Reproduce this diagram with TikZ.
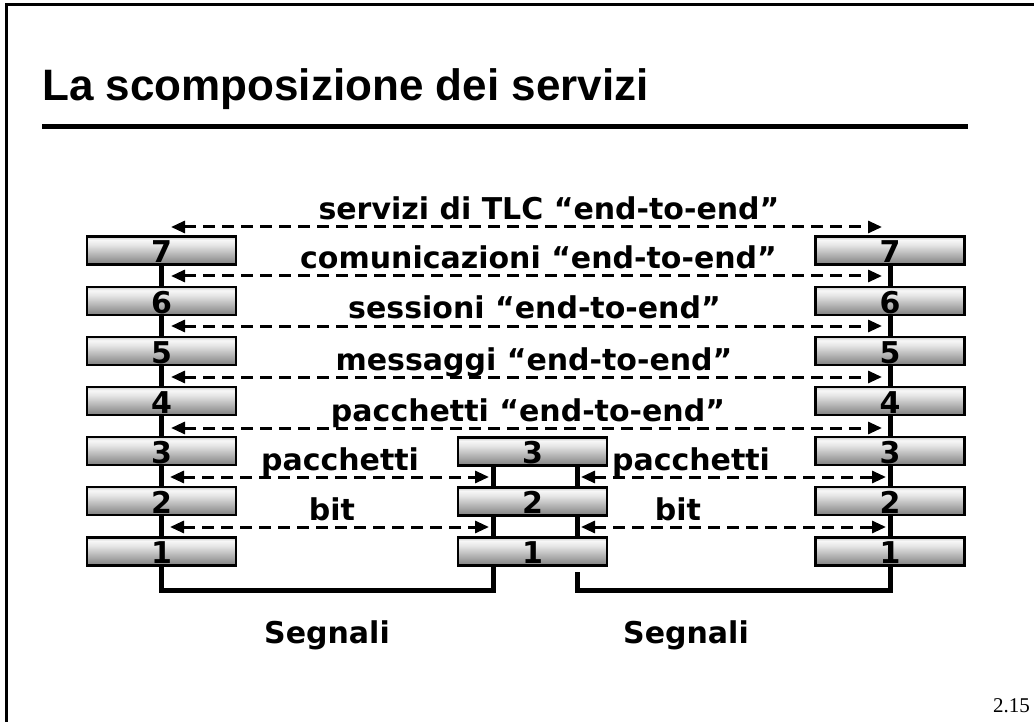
\documentclass[tikz,border=0pt]{standalone}
\usepackage{fontspec}
\setmainfont{DejaVu Sans}
\newfontfamily\titlefont{Liberation Sans}
\newfontfamily\pagefont{Liberation Serif}
\usetikzlibrary{arrows.meta,backgrounds}
% grey bar shading: bright band near the top, darker towards the bottom
\pgfdeclareverticalshading{layershade}{100bp}{color(0bp)=(black!50); color(25bp)=(black!50); color(60bp)=(black!10); color(69bp)=(black!3); color(75bp)=(black!20); color(100bp)=(black!20)}
\begin{document}
\begin{tikzpicture}[x=1pt,y=-1pt,
  layerbox/.style={draw=black, line width=2.5pt, shading=layershade,
    minimum width=149pt, minimum height=28pt, inner sep=0pt,
    text height=24.4pt, text depth=0pt,
    font=\bfseries\fontsize{30}{30}\selectfont},
  wire/.style={line width=5pt, line join=miter},
  peer/.style={line width=3pt, dash pattern=on 12pt off 7pt,
    {Triangle[length=14pt,width=12pt]}-{Triangle[length=14pt,width=12pt]}},
  lbl/.style={font=\bfseries\fontsize{30}{30}\selectfont, inner sep=0pt, anchor=base}]
\useasboundingbox (0,0) rectangle (1034,722);

% page frame and heading
\draw[line width=3pt] (6,722) -- (6,5) -- (1034,5);
\node[anchor=base west, inner sep=0pt, font=\titlefont\bfseries\fontsize{44}{44}\selectfont]
  (title) at (42,101) {La scomposizione dei servizi};
\draw[line width=5pt] (42,127) -- (968,127);
\node[anchor=base east, inner sep=0pt, font=\pagefont\fontsize{21}{21}\selectfont] (pg) at (1030,712) {2.15};

% protocol stacks
\foreach \n/\y in {7/250.5,6/301,5/351,4/401,3/451,2/501,1/551.5}{
  \node[layerbox] (L\n) at (161.5,\y) {\n};
  \node[layerbox] (R\n) at (890,\y) {\n};
}
\foreach \n/\y in {3/451.5,2/501.5,1/551.5}{
  \node[layerbox] (M\n) at (532.5,\y) {\n};
}

% physical links behind the stacks
\coordinate (sigL) at (493,590);
\coordinate (sigR) at (577,590);
\begin{scope}[on background layer]
  \draw[wire] (L7.south) |- (sigL) -- (sigL |- M3.south);
  \draw[wire] (sigR |- M3.south) -- (sigR |- M1.north);
  \draw[wire] (577,572) -- (sigR) -| (R7.south);
\end{scope}

% peer-to-peer relations
\foreach \k/\y in {1/227,2/276,3/326,4/377,5/428}{
  \coordinate (e\k a) at (171,\y);
  \coordinate (e\k b) at (882,\y);
  \draw[peer] (e\k a) -- (e\k b);
}
\foreach \k/\y in {6/477,7/527}{
  \coordinate (h\k a) at (170,\y);
  \coordinate (h\k b) at (489,\y);
  \coordinate (k\k a) at (581,\y);
  \coordinate (k\k b) at (886,\y);
  \draw[peer] (h\k a) -- (h\k b);
  \draw[peer] (k\k a) -- (k\k b);
}

% relation labels
\node[lbl] (t1) at (549,220) {servizi di TLC “end-to-end”};
\node[lbl] (t2) at (538.5,269) {comunicazioni “end-to-end”};
\node[lbl] (t3) at (534.5,319) {sessioni “end-to-end”};
\node[lbl] (t4) at (534,370) {messaggi “end-to-end”};
\node[lbl] (t5) at (528,421) {pacchetti “end-to-end”};
\node[lbl] (t6) at (340,470) {pacchetti};
\node[lbl] (t7) at (691,470) {pacchetti};
\node[lbl] (t8) at (332,520) {bit};
\node[lbl] (t9) at (678,520) {bit};
\node[lbl] (s1) at (327,643) {Segnali};
\node[lbl] (s2) at (686,643) {Segnali};
\end{tikzpicture}
\end{document}
